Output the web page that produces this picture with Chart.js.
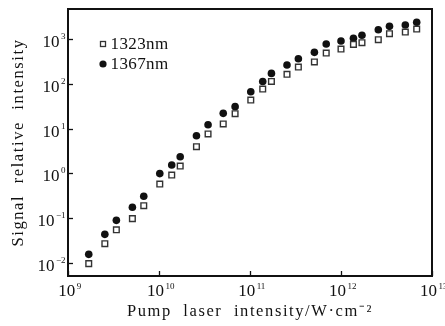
<!DOCTYPE html>
<html>
<head>
<meta charset="utf-8">
<script src="https://cdn.jsdelivr.net/npm/chart.js@4/dist/chart.umd.min.js"></script>
<style>
  html, body { margin: 0; padding: 0; background: #fff; }
  #wrap { width: 445px; height: 326px; }
</style>
</head>
<body>
<div id="wrap"><canvas id="chart" width="445" height="326"></canvas></div>
<script>
// pump laser intensity (W/cm^2), shared by both series
const pumpIntensity = [1.69e9, 2.54e9, 3.4e9, 5.1e9, 6.8e9, 1.02e10, 1.38e10, 1.71e10, 2.58e10, 3.46e10,
  5.08e10, 6.86e10, 1.02e11, 1.38e11, 1.72e11, 2.55e11, 3.4e11, 5.1e11, 6.88e11, 1.0e12,
  1.37e12, 1.7e12, 2.57e12, 3.41e12, 5.09e12, 6.79e12];
const signal1323 = [0.0097, 0.027, 0.055, 0.098, 0.19, 0.58, 0.92, 1.46, 3.95, 7.6,
  12.7, 21.5, 43.5, 76.5, 113, 163, 237, 307, 486, 598,
  760, 826, 966, 1313, 1432, 1670];
const signal1367 = [0.0156, 0.0436, 0.0896, 0.175, 0.308, 0.99, 1.54, 2.36, 6.95, 12.2,
  21.9, 30.9, 66.7, 113, 171, 263, 364, 504, 773, 902,
  1036, 1209, 1613, 1918, 2052, 2356];
const seriesNames = ['1323nm', '1367nm'];
const xTickExps = [9, 10, 11, 12, 13];
const yTickExps = [-2, -1, 0, 1, 2, 3];

const serif = "'Liberation Serif', 'Times New Roman', serif";

function toPoints(xs, ys) {
  return xs.map((x, i) => ({ x: x, y: ys[i] }));
}

// the scanned original has widely spaced lettering in the axis titles
const spacing = {
  id: 'spacing',
  beforeDraw(chart) { chart.ctx.letterSpacing = '1.6px'; },
  afterDraw(chart) { chart.ctx.letterSpacing = '0px'; }
};

// frame, inward ticks, 10^n labels and the legend
const decorations = {
  id: 'decorations',
  afterDraw(chart) {
    const ctx = chart.ctx;
    const area = chart.chartArea;
    const xs = chart.scales.x;
    const ys = chart.scales.y;
    ctx.save();
    ctx.letterSpacing = '0px';
    ctx.strokeStyle = '#111';
    ctx.lineWidth = 2;
    ctx.strokeRect(area.left, area.top, area.right - area.left, area.bottom - area.top);

    ctx.lineWidth = 1.3;
    ctx.fillStyle = '#111';
    xTickExps.forEach(e => {
      const px = Math.round(xs.getPixelForValue(Math.pow(10, e))) + 0.5;
      ctx.beginPath();
      ctx.moveTo(px, area.bottom);
      ctx.lineTo(px, area.bottom - 5);
      ctx.stroke();
      const base = '10', exp = String(e);
      ctx.font = '17px ' + serif;
      const bw = ctx.measureText(base).width;
      ctx.font = '9px ' + serif;
      const ew = ctx.measureText(exp).width;
      const start = px - (bw + ew + 1) / 2 + 1;
      ctx.textBaseline = 'alphabetic';
      ctx.textAlign = 'left';
      ctx.font = '17px ' + serif;
      ctx.fillText(base, start, 296);
      ctx.font = '9px ' + serif;
      ctx.fillText(exp, start + bw + 1.5, 289);
    });
    yTickExps.forEach(e => {
      const py = Math.round(ys.getPixelForValue(Math.pow(10, e))) + 0.5;
      ctx.beginPath();
      ctx.moveTo(area.left, py);
      ctx.lineTo(area.left + 5, py);
      ctx.stroke();
      const base = '10', exp = e < 0 ? '\u2212' + (-e) : String(e);
      ctx.font = '9px ' + serif;
      const ew = ctx.measureText(exp).width;
      ctx.textAlign = 'right';
      ctx.textBaseline = 'alphabetic';
      ctx.fillText(exp, 65.5, py - 1);
      ctx.font = '17px ' + serif;
      ctx.fillText(base, 65.5 - ew - 1.5, py + 7);
    });

    // legend
    const legendX = 103, legendY = [44, 64];
    ctx.strokeStyle = '#333';
    ctx.lineWidth = 1.3;
    ctx.strokeRect(legendX - 2.5, legendY[0] - 2.5, 5, 5);
    ctx.beginPath();
    ctx.arc(legendX, legendY[1], 3.6, 0, Math.PI * 2);
    ctx.fill();
    ctx.font = '17px ' + serif;
    ctx.letterSpacing = '0.4px';
    ctx.textAlign = 'left';
    ctx.textBaseline = 'alphabetic';
    ctx.fillText(seriesNames[0], 110.5, legendY[0] + 4.5);
    ctx.fillText(seriesNames[1], 110.5, legendY[1] + 4.5);
    ctx.restore();
  }
};

const ctx = document.getElementById('chart').getContext('2d');
new Chart(ctx, {
  type: 'scatter',
  data: {
    datasets: [{
      label: seriesNames[0],
      data: toPoints(pumpIntensity, signal1323),
      pointStyle: 'rect',
      pointRadius: 4,
      borderWidth: 1.4,
      borderColor: '#333',
      backgroundColor: '#fff'
    }, {
      label: seriesNames[1],
      data: toPoints(pumpIntensity, signal1367),
      pointStyle: 'circle',
      pointRadius: 3.8,
      borderWidth: 0,
      borderColor: '#111',
      backgroundColor: '#111'
    }]
  },
  options: {
    responsive: false,
    animation: false,
    layout: { padding: { top: 9, right: 13, left: 0, bottom: 0 } },
    plugins: {
      legend: { display: false },
      tooltip: { enabled: false }
    },
    scales: {
      x: {
        type: 'logarithmic',
        min: 1e9,
        max: 1e13,
        grid: { display: false },
        border: { display: false },
        ticks: { display: false },
        afterFit(scale) { scale.height = 50; },
        title: {
          display: true,
          text: 'Pump  laser  intensity/W\u00b7cm\u207b\u00b2',
          color: '#111',
          font: { family: serif, size: 16.5 },
          padding: { top: 0, bottom: 4 }
        }
      },
      y: {
        type: 'logarithmic',
        min: Math.pow(10, -2.29),
        max: Math.pow(10, 3.67),
        grid: { display: false },
        border: { display: false },
        ticks: { display: false },
        afterFit(scale) { scale.width = 68; },
        title: {
          display: true,
          text: 'Signal  relative  intensity',
          color: '#111',
          font: { family: serif, size: 16.5 },
          padding: { top: 9, bottom: 0 }
        }
      }
    }
  },
  plugins: [spacing, decorations]
});
</script>
</body>
</html>
